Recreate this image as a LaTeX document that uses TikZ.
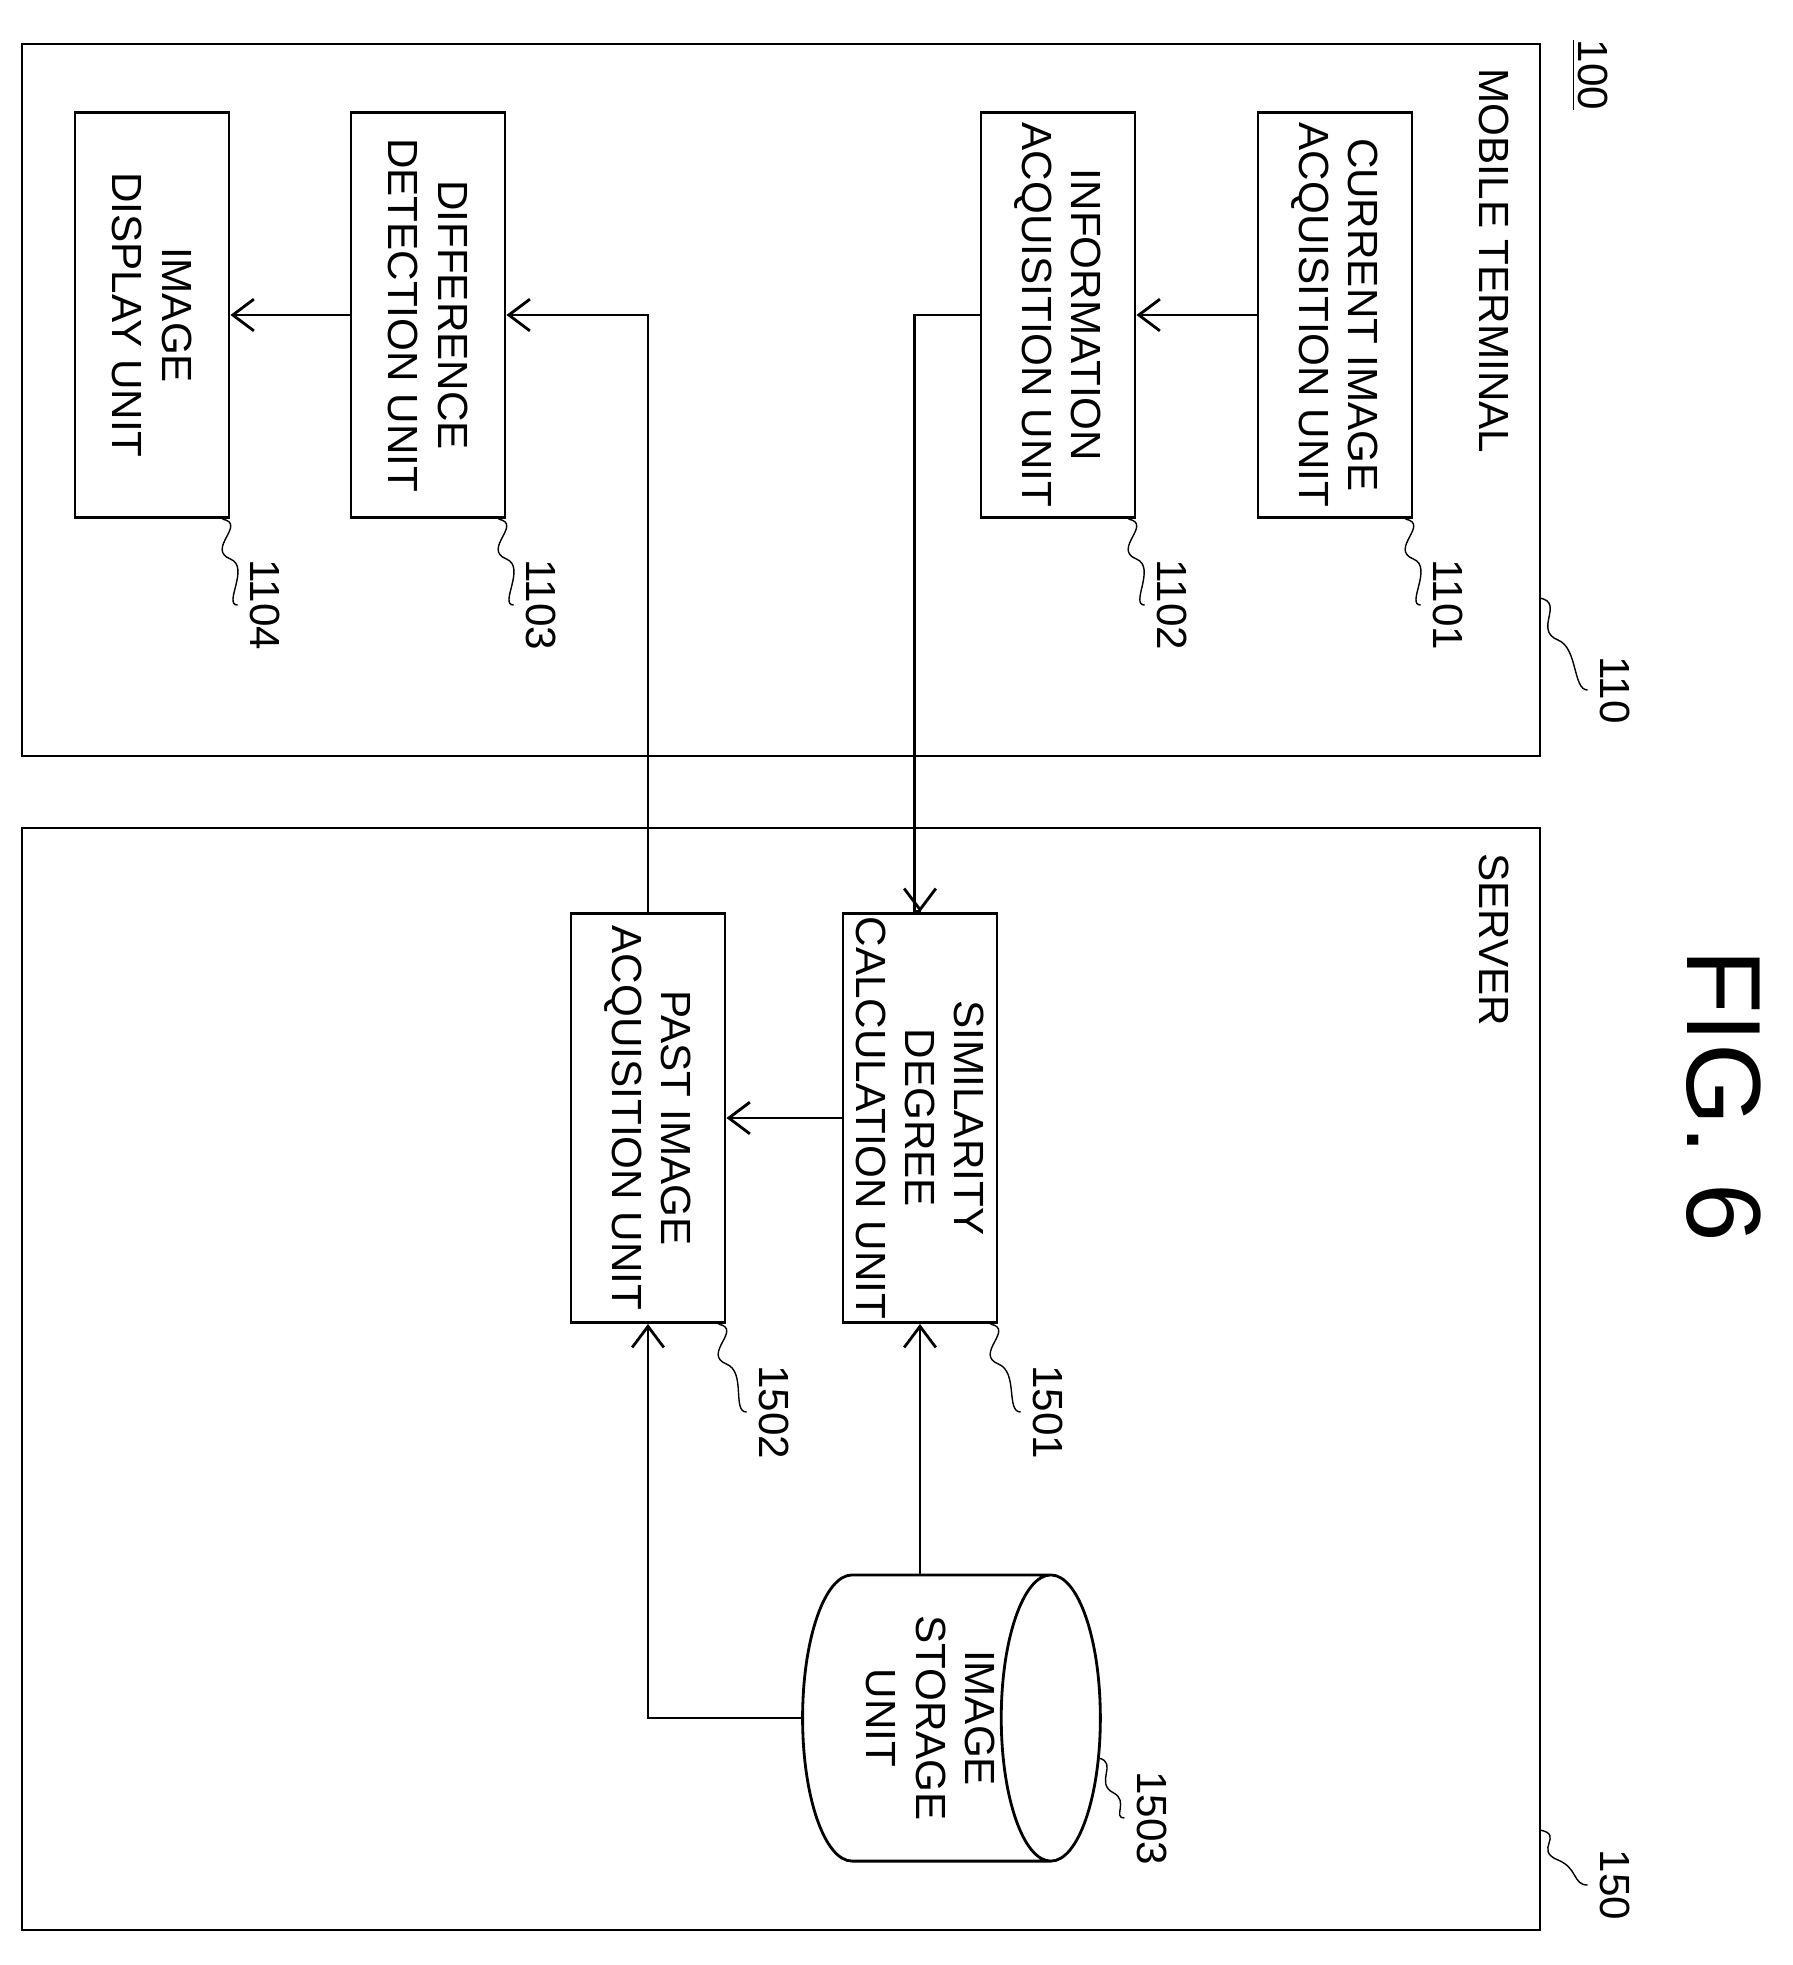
\documentclass[tikz,border=0pt]{standalone}
\usepackage{fontspec}
\setmainfont{Liberation Sans}
\usetikzlibrary{shapes.geometric, arrows.meta, calc}
\tikzset{
  unit/.style={draw, thick, rectangle, align=center, rotate=-90, inner sep=0pt, minimum width=4.05cm, minimum height=1.54cm, font=\fontsize{12}{14}\selectfont},
  lbl/.style={rotate=-90, font=\fontsize{12}{14}\selectfont},
  arr/.style={thick, ->, >={Straight Barb[length=6pt, width=9pt]}},
  lead/.style={thin}
}
\begin{document}
\begin{tikzpicture}[x=0.01cm, y=-0.01cm]
\useasboundingbox (0,0) rectangle (1793,1965);
% frames
\draw[thick] (22,44) rectangle (1540,756);
\draw[thick] (22,828) rectangle (1540,1930);
\node[lbl] (mt) at (1494,261) {MOBILE TERMINAL};
\node[lbl] (sv) at (1494,940) {SERVER};
\node[lbl] (ref) at (1590,75) {\underline{100}};
\node[rotate=-90, font=\fontsize{30}{34}\selectfont] (fig) at (1724,1096) {FIG. 6};
% mobile terminal units
\node[unit] (cur) at (1335,315) {CURRENT IMAGE\\ACQUISITION UNIT};
\node[unit] (inf) at (1058,315) {INFORMATION\\ACQUISITION UNIT};
\node[unit] (dif) at (428,315) {DIFFERENCE\\DETECTION UNIT};
\node[unit] (dsp) at (152,315) {IMAGE\\DISPLAY UNIT};
% server units
\node[unit, minimum width=4.09cm] (sim) at (920,1118) {SIMILARITY\\DEGREE\\CALCULATION UNIT};
\node[unit, minimum width=4.09cm] (pst) at (648,1118) {PAST IMAGE\\ACQUISITION UNIT};
\node[cylinder, draw, thick, shape border rotate=0, aspect=0.4, minimum width=2.86cm, minimum height=2.3cm, inner sep=0pt, align=center, font=\fontsize{12}{14}\selectfont] (sto) at (926,1718) {\rotatebox{-90}{\begin{tabular}{c}IMAGE\\STORAGE\\UNIT\end{tabular}}};
% connectors
\draw[arr] (cur.south) -- (inf.north);
\draw[arr] (inf.south) -- ++(-65,0) |- ($(sim.west)+(0,-1)$) -- (sim.west);
\draw[arr] (sim.south) -- (pst.north);
\draw[arr] (sim.east |- sto.north) -- (sim.east);
\draw[arr] (sto.west) -| (pst.east);
\draw[arr] (pst.west) |- (dif.north);
\draw[arr] (dif.south) -- (dsp.north);
% reference numbers
\node[lbl] (n110) at (1615,690) {110};
\node[lbl] (n150) at (1615,1885) {150};
\node[lbl] (n1101) at (1448,605) {1101};
\node[lbl] (n1102) at (1172,605) {1102};
\node[lbl] (n1103) at (541,605) {1103};
\node[lbl] (n1104) at (265,605) {1104};
\node[lbl] (n1501) at (1048,1412) {1501};
\node[lbl] (n1502) at (774,1412) {1502};
\node[lbl] (n1503) at ($(sto.east)+(50,100)$) {1503};
\foreach \b/\n in {cur/n1101, inf/n1102, dif/n1103, dsp/n1104, sim/n1501, pst/n1502}
  \draw[lead] ($(\b.north east)+(-8,0)$) .. controls +(25,5) and +(-25,-10) .. ($(\b.north east)+(0,40)$) .. controls +(20,8) and +(-15,0) .. (\n.south);
\draw[lead] (1540,598) .. controls +(25,5) and +(-25,-10) .. (1558,640) .. controls +(20,8) and +(-15,0) .. (n110.south);
\draw[lead] (1540,1830) .. controls +(25,5) and +(-25,-10) .. (1558,1860) .. controls +(20,8) and +(-15,0) .. (n150.south);
\draw[lead] ($(sto.east)+(-3,40)$) .. controls +(20,5) and +(-20,-10) .. ($(sto.east)+(12,75)$) .. controls +(15,8) and +(-12,0) .. (n1503.south);
\end{tikzpicture}
\end{document}
